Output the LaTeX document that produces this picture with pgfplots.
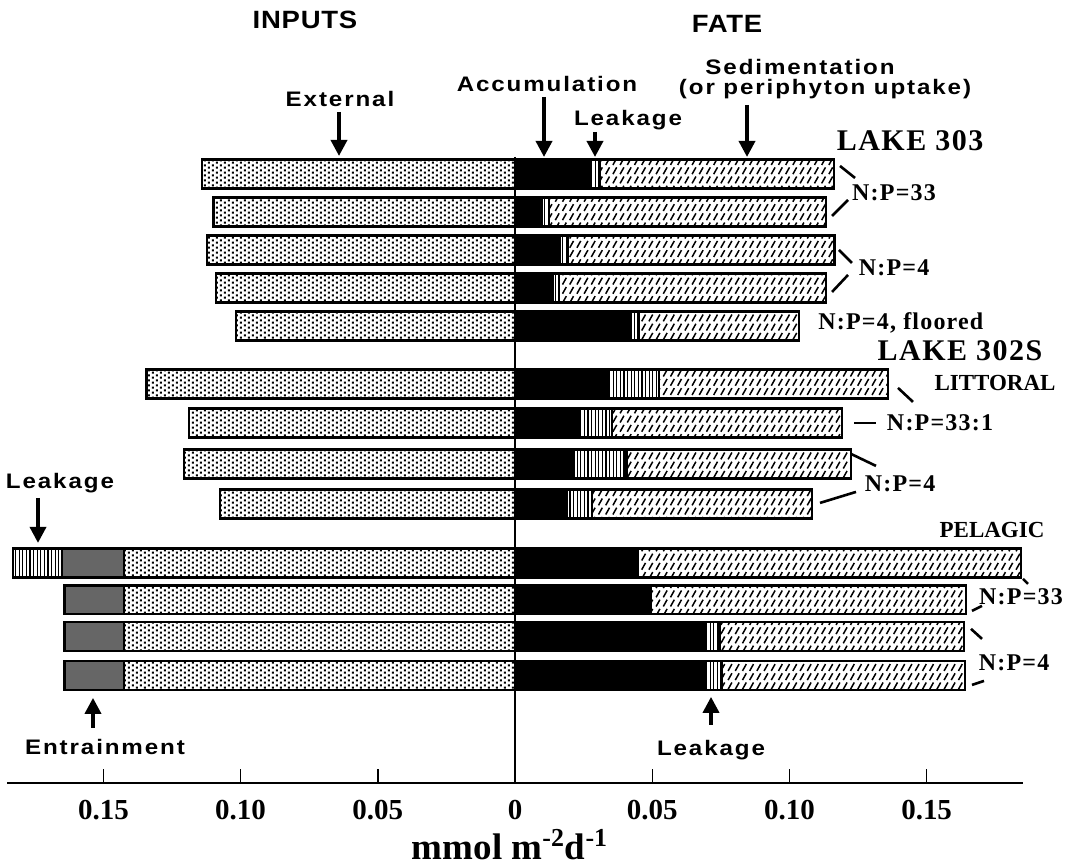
\documentclass[border=0pt]{standalone}
\usepackage{fontspec}
\setmainfont{Liberation Serif}
\newfontfamily\hsans[FakeStretch=1.15,LetterSpace=9]{Liberation Sans}
\newfontfamily\hhead[FakeStretch=1.1,LetterSpace=3]{Liberation Sans}
\newfontfamily\nser[LetterSpace=5]{Liberation Serif}
\usepackage{pgfplots}
\pgfplotsset{compat=1.18}
\usetikzlibrary{patterns.meta,arrows.meta}

\tikzdeclarepattern{name=extdots, type=uncolored,
  bounding box={(0,0) and (4pt,2.6pt)}, tile size={(4pt,2.6pt)},
  code={\fill (0.4pt,0.2pt) rectangle (1.4pt,1.3pt); \fill (2.4pt,1.5pt) rectangle (3.4pt,2.6pt);}}
\tikzdeclarepattern{name=sedhatch, type=uncolored,
  bounding box={(-1pt,-1pt) and (5pt,6pt)}, tile size={(3.6pt,4.6pt)},
  code={\draw[line width=0.75pt] (0.5pt,0.4pt) -- (2.4pt,3.8pt);}}
\tikzdeclarepattern{name=vlines, type=uncolored,
  bounding box={(0,-0.2pt) and (1.8pt,1.2pt)}, tile size={(1.8pt,1pt)},
  code={\fill (0.3pt,-0.2pt) rectangle (0.9pt,1.2pt);}}

\tikzset{
  slab/.style={inner sep=0pt, anchor=base, font=\hsans\bfseries\fontsize{10.5}{12}\selectfont},
  hlab/.style={inner sep=0pt, anchor=base, font=\hhead\bfseries\fontsize{12.5}{14}\selectfont},
  nlab/.style={inner sep=0pt, font=\nser\bfseries\fontsize{12}{14}\selectfont},
  arr/.style={line width=1.8pt, -{Triangle[length=8pt,width=8pt]}},
  brk/.style={line width=1.3pt}
}

\pgfplotsset{mybase/.style={scale only axis, width=508pt, height=391.5pt,
  xmin=-0.1851, xmax=0.1851, ymin=82, ymax=865, xbar stacked, bar width=29, clip=false},
  seg/.style={draw=black, line width=1.1pt}}

\begin{document}
\begin{tikzpicture}
% ---------- INPUTS (left) ----------
\begin{axis}[mybase, hide axis]
\addplot[seg, pattern=extdots] coordinates {
 (-0.1141,691) (-0.1099,653) (-0.1122,615) (-0.1090,577) (-0.1016,539)
 (-0.1343,481) (-0.1188,442) (-0.1207,401) (-0.1074,361)
 (-0.1425,302) (-0.1425,265) (-0.1425,228) (-0.1425,189)};
\addplot[seg, fill=black!60] coordinates {
 (0,691) (0,653) (0,615) (0,577) (0,539)
 (0,481) (0,442) (0,401) (0,361)
 (-0.0225,302) (-0.0217,265) (-0.0217,228) (-0.0217,189)};
\addplot[seg, pattern=vlines] coordinates {
 (0,691) (0,653) (0,615) (0,577) (0,539)
 (0,481) (0,442) (0,401) (0,361)
 (-0.0180,302) (0,265) (0,228) (0,189)};
\end{axis}
% ---------- FATE (right) ----------
\begin{axis}[mybase,
  axis x line=bottom, axis y line=none,
  axis line style={-, line width=1pt},
  xtick={-0.15,-0.1,-0.05,0,0.05,0.1,0.15},
  xticklabels={0.15,0.10,0.05,0,0.05,0.10,0.15},
  tick align=inside, major tick length=7pt,
  tick style={line width=0.7pt, black},
  xticklabel style={font=\bfseries\fontsize{14.5}{14.5}\selectfont, yshift=-5pt}]
\addplot[seg, fill=black] coordinates {
 (0.0277,691) (0.0098,653) (0.0164,615) (0.0138,577) (0.0423,539)
 (0.0337,481) (0.0231,442) (0.0215,401) (0.0188,361)
 (0.0447,302) (0.0489,265) (0.0692,228) (0.0692,189)};
\addplot[seg, pattern=vlines] coordinates {
 (0.0033,691) (0.0027,653) (0.0027,615) (0.0023,577) (0.0027,539)
 (0.0188,481) (0.0122,442) (0.0191,401) (0.0093,361)
 (0,302) (0.0008,265) (0.0053,228) (0.0062,189)};
\addplot[seg, pattern=sedhatch] coordinates {
 (0.0853,691) (0.1009,653) (0.0973,615) (0.0973,577) (0.0586,539)
 (0.0835,481) (0.0840,442) (0.0819,401) (0.0802,361)
 (0.1396,302) (0.1147,265) (0.0890,228) (0.0887,189)};
% zero line
\draw[line width=1.1pt] (axis cs:0,708) -- (axis cs:0,82);
% headings and labels
\node[hlab] at (axis cs:-0.07653,836) {INPUTS};
\node[hlab] at (axis cs:0.07726,832) {FATE};
\node[slab] at (axis cs:-0.06378,758) {External};
\node[slab] at (axis cs:0.01166,773) {Accumulation};
\node[slab] at (axis cs:0.04118,739) {Leakage};
\node[slab] at (axis cs:0.10386,790) {Sedimentation};
\node[slab] at (axis cs:0.11297,770) {(or periphyton uptake)};
\node[slab] at (axis cs:-0.16582,376) {Leakage};
\node[slab] at (axis cs:-0.14942,110) {Entrainment};
\node[slab] at (axis cs:0.07143,109) {Leakage};
% arrows
\draw[arr] (axis cs:-0.06414,753) -- (axis cs:-0.06414,709);
\draw[arr] (axis cs:0.01057,768) -- (axis cs:0.01057,708);
\draw[arr] (axis cs:0.02915,733) -- (axis cs:0.02915,708);
\draw[arr] (axis cs:0.08455,760) -- (axis cs:0.08455,708);
\draw[arr] (axis cs:-0.17383,367) -- (axis cs:-0.17383,322);
\draw[arr] (axis cs:-0.15379,137) -- (axis cs:-0.15379,167);
\draw[arr] (axis cs:0.07143,140) -- (axis cs:0.07143,168);
% right-side labels
\node[inner sep=0pt, font=\nser\bfseries\fontsize{15}{18}\selectfont] at (axis cs:0.14395,724) {LAKE 303};
\node[inner sep=0pt, font=\nser\bfseries\fontsize{15}{18}\selectfont] at (axis cs:0.16217,514) {LAKE 302S};
\node[inner sep=0pt, font=\bfseries\fontsize{11.5}{13}\selectfont] at (axis cs:0.17493,482) {LITTORAL};
\node[inner sep=0pt, font=\bfseries\fontsize{11.5}{13}\selectfont] at (axis cs:0.17383,335) {PELAGIC};
\node[nlab] at (axis cs:0.13812,672) {N:P=33};
\node[nlab] at (axis cs:0.13812,597) {N:P=4};
\node[nlab, anchor=west] at (axis cs:0.11042,542) {N:P=4, floored};
\node[nlab] at (axis cs:0.15488,442) {N:P=33:1};
\node[nlab] at (axis cs:0.14031,381) {N:P=4};
\node[nlab] at (axis cs:0.18440,268) {N:P=33};
\node[nlab] at (axis cs:0.18185,202) {N:P=4};
% bracket strokes
\draw[brk] (axis cs:0.11844,699) -- (axis cs:0.12391,687);
\draw[brk] (axis cs:0.11553,649) -- (axis cs:0.12136,665);
\draw[brk] (axis cs:0.11808,615) -- (axis cs:0.12281,602);
\draw[brk] (axis cs:0.11553,573) -- (axis cs:0.12136,590);
\draw[brk] (axis cs:0.13958,477) -- (axis cs:0.14504,463);
\draw[brk] (axis cs:0.12354,442) -- (axis cs:0.13156,442);
\draw[brk] (axis cs:0.12245,411) -- (axis cs:0.13156,399);
\draw[brk] (axis cs:0.11115,362) -- (axis cs:0.12427,373);
\draw[brk] (axis cs:0.18513,286) -- (axis cs:0.18695,281);
\draw[brk] (axis cs:0.16655,254) -- (axis cs:0.17019,259);
\draw[brk] (axis cs:0.16618,236) -- (axis cs:0.17019,226);
\draw[brk] (axis cs:0.16655,180) -- (axis cs:0.17092,184);
% x label
\node[inner sep=0pt, font=\bfseries\fontsize{18.5}{21}\selectfont] at (axis cs:-0.00182,20) {mmol m\textsuperscript{-2}d\textsuperscript{-1}};
% picture extent
\path (axis cs:-0.18768,0) rectangle (axis cs:0.20262,865);
\end{axis}
\end{tikzpicture}
\end{document}
